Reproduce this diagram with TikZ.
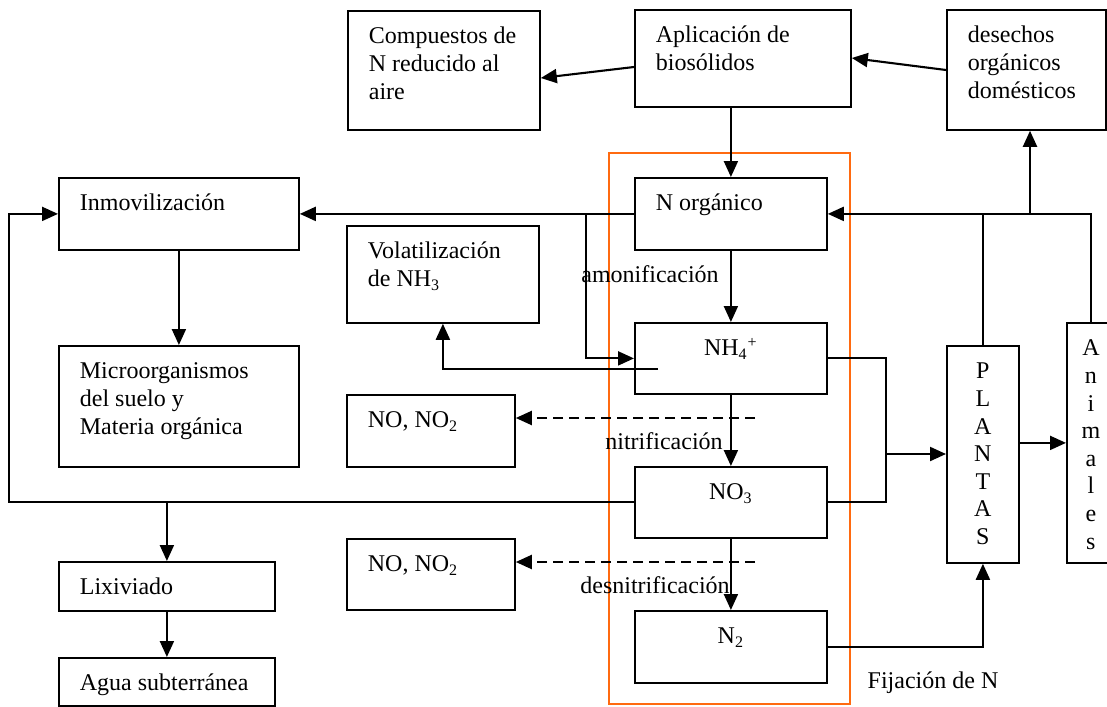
\documentclass[tikz,border=0pt]{standalone}
\usepackage{fontspec}
\setmainfont{Liberation Serif}
\usetikzlibrary{arrows.meta,calc}
\definecolor{fixline}{HTML}{FF6A10}
\newlength{\px}
\setlength{\px}{0.5pt}
\newcommand{\lbox}[3]{\parbox[c][#2\px][t]{#1\px}{\raggedright\leftskip=21\px\rule{0pt}{33\px}#3}}
\newcommand{\cbox}[3]{\parbox[c][#2\px][t]{#1\px}{\centering\rule{0pt}{33\px}#3}}
\begin{document}
\begin{tikzpicture}[x=0.5pt, y=-0.5pt,
  every node/.style={font=\fontsize{12}{13.8}\selectfont},
  box/.style={draw,line width=0.9pt,inner sep=0pt,anchor=north west},
  lbl/.style={inner sep=0pt,anchor=base},
  arr/.style={line width=1.05pt,-{Triangle[length=8pt,width=7pt]}},
  con/.style={line width=1.05pt},
]
  \clip (0,0) rectangle (1107,706);
  % fixation frame
  \draw[fixline,line width=1.4pt] (609,153) rectangle (850,704);

  % top row
  \node[box] (comp) at (347,10) {\lbox{192}{119}{Compuestos de\\N reducido al\\aire}};
  \node[box] (apl) at (634,9) {\lbox{216}{97}{Aplicación de\\biosólidos}};
  \node[box] (des) at (946,9) {\lbox{159}{120}{desechos\\orgánicos\\domésticos}};

  % left column
  \node[box] (inmov) at (58,177) {\lbox{240}{72}{Inmovilización}};
  \node[box] (micro) at (58,345) {\lbox{240}{121}{Microorganismos\\del suelo y\\Materia orgánica}};
  \node[box] (lix) at (58,561) {\lbox{216}{49}{Lixiviado}};
  \node[box] (agua) at (58,657) {\lbox{216}{48}{Agua subterránea}};

  % gas losses
  \node[box] (vol) at (346,225) {\lbox{192}{97}{Volatilización\\de NH\textsubscript{3}}};
  \node[box] (noa) at (346,394) {\lbox{168}{72}{NO, NO\textsubscript{2}}};
  \node[box] (nob) at (346,538) {\lbox{168}{71}{NO, NO\textsubscript{2}}};

  % nitrogen forms
  \node[box] (norg) at (634,177) {\lbox{192}{72}{N orgánico}};
  \node[box] (nh4) at (634,322) {\cbox{192}{71}{NH\textsubscript{4}\textsuperscript{+}}};
  \node[box] (no3) at (634,466) {\cbox{192}{71}{NO\textsubscript{3}}};
  \node[box] (ntwo) at (634,610) {\cbox{192}{72}{N\textsubscript{2}}};

  % plants and animals
  \node[box] (plantas) at (946,345) {\cbox{72}{217}{P\\L\\A\\N\\T\\A\\S}};
  \node[box] (anim) at (1066,322) {\cbox{48}{240}{A\\n\\i\\m\\a\\l\\e\\s}};

  % labels
  \node[lbl] (amon) at (650,282) {amonificación};
  \node[lbl] (nitr) at (664,449) {nitrificación};
  \node[lbl] (desn) at (655,593) {desnitrificación};
  \node[lbl] (fij) at (933,688) {Fijación de N};

  % top arrows
  \draw[arr] ($(apl.north west)+(0,58)$) -- ($(comp.north east)+(0,68)$);
  \draw[arr] ($(des.north west)+(0,61)$) -- ($(apl.north east)+(0,49)$);
  \draw[arr] (apl.south -| norg.north) -- (norg.north);

  % transformations
  \draw[arr] (norg) -- (nh4);
  \draw[arr] (nh4) -- (no3);
  \draw[arr] (no3) -- (ntwo);

  % immobilisation
  \draw[arr] (norg.west) -- (inmov.east);
  \path (norg.west) ++(-48,0) coordinate (br);
  \draw[arr] (br) |- (nh4.west);
  \draw[arr] (inmov) -- (micro);
  \path (inmov.west) ++(-49,0) coordinate (lc);
  \draw[arr] (no3.west) -| (lc) -- (inmov.west);
  \coordinate (lb) at (lix.north |- no3.west);
  \draw[arr] (lb) -- (lix);
  \draw[arr] (lix) -- (agua);

  % volatilisation and gas losses
  \coordinate (vsrc) at (658,369);
  \draw[arr] (vsrc) -| (vol.south);
  \coordinate (da) at (755,418);
  \coordinate (db) at (755,562);
  \draw[arr,dash pattern=on 5pt off 3pt] (da) -- (da -| noa.east);
  \draw[arr,dash pattern=on 5pt off 3pt] (db) -- (db -| nob.east);

  % uptake by plants
  \coordinate (jn) at (886,454);
  \draw[con] (nh4.east) -| (jn) |- (no3.east);
  \draw[arr] (jn) -- (plantas.west |- jn);
  \draw[arr] (ntwo.east) -| (plantas.south);
  \draw[arr] (plantas.east |- anim.west) -- (anim.west);

  % return to organic N
  \draw[arr] (anim.north) |- (norg.east);
  \draw[con] (plantas.north) -- (plantas.north |- norg.east);
  \coordinate (jd) at (1030,213);
  \draw[arr] (jd) -- (jd |- des.south);
\end{tikzpicture}
\end{document}
